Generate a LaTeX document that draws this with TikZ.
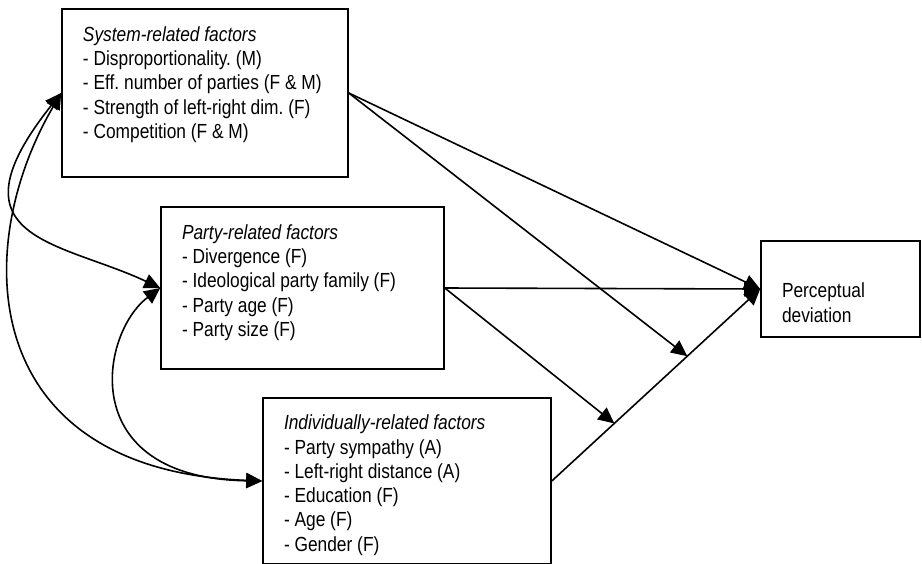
\documentclass[tikz,border=0pt]{standalone}
\usepackage{fontspec}
\setmainfont{Liberation Sans}[FakeStretch=0.85]
\usetikzlibrary{arrows.meta,calc}

% text block of a box: width, height, space above, lines
\newcommand{\boxtext}[4]{\parbox[c][#2][t]{#1}{\vspace*{#3}\raggedright\frenchspacing #4}}

\begin{document}
\begin{tikzpicture}[
    x=0.5pt, y=-0.5pt,
    factor/.style={draw, rectangle, line width=0.8pt, inner xsep=10.5pt, inner ysep=0pt, font=\fontsize{10.2pt}{12.15pt}\selectfont},
    effect/.style={-{Triangle[length=8pt, width=7.5pt]}, line width=0.8pt},
    covary/.style={{Triangle[length=8pt, width=7.5pt]}-{Triangle[length=8pt, width=7.5pt]}, line width=0.8pt}
]
    \clip (0,0) rectangle (922,563);

    % System-related factors
    \node[factor, minimum width=143pt, minimum height=84pt] (system) at (205,93) {\boxtext{122pt}{84pt}{8.75pt}{
        \textit{System-related factors}\\
        - Disproportionality. (M)\\
        - Eff. number of parties (F \& M)\\
        - Strength of left-right dim. (F)\\
        - Competition (F \& M)}};

    % Party-related factors
    \node[factor, minimum width=141.5pt, minimum height=81pt] (party) at (302.5,288) {\boxtext{120.5pt}{81pt}{8.75pt}{
        \textit{Party-related factors}\\
        - Divergence (F)\\
        - Ideological party family (F)\\
        - Party age (F)\\
        - Party size (F)}};

    % Individually-related factors
    \node[factor, minimum width=144pt, minimum height=83pt] (individual) at (407,481) {\boxtext{123pt}{83pt}{8.5pt}{
        \textit{Individually-related factors}\\
        - Party sympathy (A)\\
        - Left-right distance (A)\\
        - Education (F)\\
        - Age (F)\\
        - Gender (F)}};

    % Perceptual deviation
    \node[factor, minimum width=79.5pt, minimum height=48pt] (deviation) at (840.5,289) {\boxtext{58.5pt}{48pt}{21pt}{
        Perceptual\\
        deviation}};

    % Points where the interactions meet the individual path
    \coordinate (meet1) at ($(individual.east)!0.65!(deviation.west)$);
    \coordinate (meet2) at ($(individual.east)!0.3!(deviation.west)$);

    % Direct effects
    \draw[effect] (system.east) -- (deviation.west);
    \draw[effect] (party.east) -- (deviation.west);
    \draw[effect] (individual.east) -- (deviation.west);

    % Interaction effects
    \draw[effect] (system.east) -- (meet1);
    \draw[effect] (party.east) -- (meet2);

    % Covariances
    \draw[covary] (system.west) .. controls +(-92,157) and +(-283,-11) .. (individual.west);
    \draw[covary] (system.west) .. controls +(-117,147) and +(-100,-47) .. (party.west);
    \draw[covary] (party.west) .. controls +(-60,45) and +(-188,-3) .. (individual.west);

\end{tikzpicture}
\end{document}
